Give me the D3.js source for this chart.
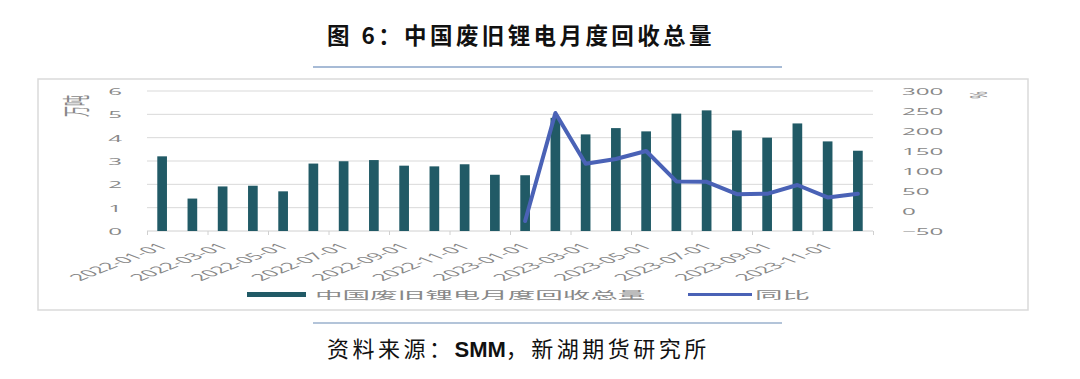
<!DOCTYPE html>
<html>
<head>
<meta charset="utf-8">
<script src="https://cdn.jsdelivr.net/npm/d3@7"></script>
<style>
html,body{margin:0;padding:0;background:#fff;}
svg{display:block;}
</style>
</head>
<body>
<svg id="chart" width="1080" height="379"></svg>
<script>
// ---- data ----
const months = ["2022-01-01","2022-02-01","2022-03-01","2022-04-01","2022-05-01","2022-06-01",
  "2022-07-01","2022-08-01","2022-09-01","2022-10-01","2022-11-01","2022-12-01",
  "2023-01-01","2023-02-01","2023-03-01","2023-04-01","2023-05-01","2023-06-01",
  "2023-07-01","2023-08-01","2023-09-01","2023-10-01","2023-11-01","2023-12-01"];
const recycleVolume = [3.2,1.39,1.91,1.94,1.70,2.89,2.99,3.04,2.80,2.77,2.86,2.41,
  2.39,4.85,4.14,4.41,4.27,5.03,5.17,4.31,4.00,4.61,3.84,3.44];
const yoyMonths = months.slice(12);
const yoyValues = [-25,245,118,130,150,74,73,42,43,65,34,43];
const leftTicks = [0,1,2,3,4,5,6];
const rightTicks = [-50,0,50,100,150,200,250,300];
const titleText = "图 6：中国废旧锂电月度回收总量";
const sourceText = ["资料来源：","SMM","，新湖期货研究所"];
const seriesNames = ["中国废旧锂电月度回收总量","同比"];

// ---- style ----
const barColor = "#215A66";
const lineColor = "#4A62B6";
const gridColor = "#D9D9D9";
const labelColor = "#888888";
const SX = 2.6; // horizontal stretch of chart texts
const chartFont = "'Open Sans','Noto Sans CJK SC',sans-serif";
const cjkFont = "'Noto Sans CJK SC',sans-serif";

const svg = d3.select("#chart");
const L = 147, R = 873, T = 91, B = 231;

// title
svg.append("text").attr("x", 521).attr("y", 44).attr("text-anchor","middle")
  .attr("font-family", cjkFont).attr("font-weight","bold").attr("font-size",22.5)
  .attr("letter-spacing","3.4px").attr("fill","#111").text(titleText);
svg.append("line").attr("x1",313).attr("x2",782).attr("y1",67).attr("y2",67)
  .attr("stroke","#8AA5C8").attr("stroke-width",1.5);

// chart frame
svg.append("rect").attr("x",38).attr("y",79).attr("width",990).attr("height",231)
  .attr("fill","none").attr("stroke","#DADADA").attr("stroke-width",1.5);

// scales
const x = d3.scaleBand().domain(months).range([L,R]).paddingInner(0.68).paddingOuter(0.34);
const xc = d => x(d) + x.bandwidth()/2;
const xi = d3.scaleLinear().domain([0, months.length]).range([L,R]);
const yL = d3.scaleLinear().domain([0,6]).range([B,T]);
const yR = d3.scaleLinear().domain([-50,300]).range([B,T]);

// gridlines
svg.append("g").selectAll("line").data(leftTicks.filter(v=>v>0)).join("line")
  .attr("x1",L).attr("x2",R).attr("y1",d=>yL(d)).attr("y2",d=>yL(d))
  .attr("stroke",gridColor).attr("stroke-width",1);

// left axis
const gL = svg.append("g").attr("transform",`translate(${L},0)`)
  .call(d3.axisLeft(yL).tickValues(leftTicks).tickSize(0).tickFormat(d3.format("d")));
gL.select(".domain").remove();
gL.selectAll("text").attr("x",0).attr("dy","0.36em").attr("text-anchor","end")
  .attr("transform",`translate(-25,0) scale(${SX},1)`)
  .attr("font-family",chartFont).attr("font-size",9.3).attr("fill",labelColor);

// right axis
const gR = svg.append("g").attr("transform",`translate(${R},0)`)
  .call(d3.axisRight(yR).tickValues(rightTicks).tickSize(0).tickFormat(d3.format("d")));
gR.select(".domain").remove();
gR.selectAll("text").attr("x",0).attr("dy","0.36em").attr("text-anchor","start")
  .attr("transform",`translate(29,0) scale(${SX},1)`)
  .attr("font-family",chartFont).attr("font-size",9.3).attr("fill",labelColor);

// axis titles
svg.append("text").attr("transform",`translate(87,106) scale(${SX},1) rotate(-90)`)
  .attr("text-anchor","middle").attr("font-family",cjkFont).attr("font-size",11)
  .attr("fill",labelColor).text("万吨");
svg.append("text").attr("transform",`translate(987,95) scale(${SX},1) rotate(-90)`)
  .attr("text-anchor","middle").attr("font-family",chartFont).attr("font-size",9)
  .attr("fill",labelColor).text("%");

// bottom axis line + ticks
const gB = svg.append("g").attr("transform",`translate(0,${B})`)
  .call(d3.axisBottom(xi).tickValues(d3.range(0, months.length+1, 2)).tickSize(4).tickFormat(""));
gB.select(".domain").attr("stroke","#D0D0D0").attr("d",`M${L},0H${R}`);
gB.selectAll(".tick line").attr("stroke","#D0D0D0");

// bars
svg.append("g").selectAll("rect").data(months).join("rect")
  .attr("x", d=>x(d)).attr("width", x.bandwidth())
  .attr("y", (d,i)=>yL(recycleVolume[i])).attr("height",(d,i)=>yL(0)-yL(recycleVolume[i]))
  .attr("fill", barColor);

// line
const lineGen = d3.line().x(d=>xc(d[0])).y(d=>yR(d[1]));
svg.append("path").datum(yoyMonths.map((m,i)=>[m,yoyValues[i]]))
  .attr("d", lineGen).attr("fill","none").attr("stroke",lineColor)
  .attr("stroke-width",4).attr("stroke-linejoin","round").attr("stroke-linecap","round");

// x labels
const gX = svg.append("g").attr("transform",`translate(0,${B})`)
  .call(d3.axisBottom(x).tickValues(months.filter((d,i)=>i%2===0)).tickSize(0));
gX.select(".domain").remove();
gX.selectAll("text").attr("y",0).attr("dy","0").attr("text-anchor","end")
  .attr("transform",`translate(7,16) scale(${SX},1) rotate(-45)`)
  .attr("font-family",chartFont).attr("font-size",9.3).attr("fill",labelColor);

// legend
const lg = svg.append("g");
lg.append("rect").attr("x",247).attr("y",292).attr("width",59).attr("height",5).attr("fill",barColor);
lg.append("text").attr("transform",`translate(315,299) scale(${SX},1)`)
  .attr("font-family",cjkFont).attr("font-size",10.6).attr("fill",labelColor).text(seriesNames[0]);
lg.append("line").attr("x1",688).attr("x2",752).attr("y1",294.5).attr("y2",294.5)
  .attr("stroke",lineColor).attr("stroke-width",3);
lg.append("text").attr("transform",`translate(755,299) scale(${SX},1)`)
  .attr("font-family",cjkFont).attr("font-size",10.6).attr("fill",labelColor).text(seriesNames[1]);

// source
svg.append("line").attr("x1",313).attr("x2",782).attr("y1",323).attr("y2",323)
  .attr("stroke","#9AB0CC").attr("stroke-width",1.5);
const src = svg.append("text").attr("x",327).attr("y",357)
  .attr("font-family",cjkFont).attr("font-size",22).attr("letter-spacing","3.5px").attr("fill","#111");
src.append("tspan").text(sourceText[0]);
src.append("tspan").attr("font-weight","bold").attr("font-family","'Liberation Sans Narrow','Liberation Sans',sans-serif").attr("letter-spacing","0px").text(sourceText[1]);
src.append("tspan").text(sourceText[2]);
</script>
</body>
</html>
